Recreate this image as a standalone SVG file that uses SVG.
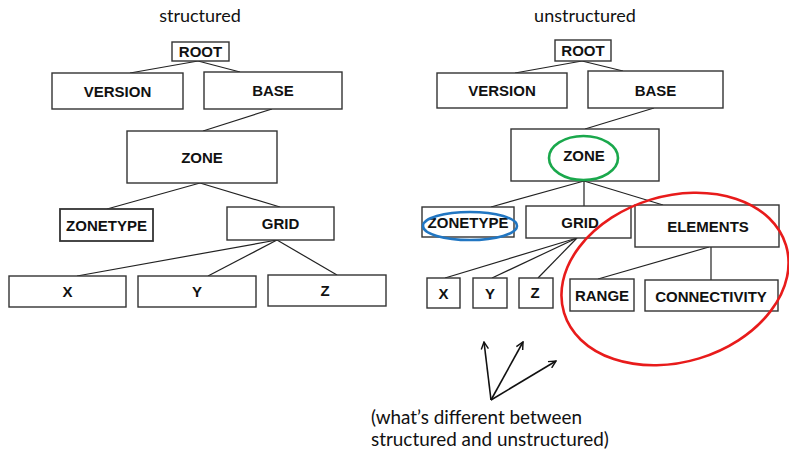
<svg xmlns="http://www.w3.org/2000/svg" width="789" height="451" viewBox="0 0 789 451">
<defs>
<style>
.box{fill:#fff;stroke:#333;stroke-width:1.4}
.lbl{font-family:"Liberation Sans",Arial,sans-serif;font-weight:bold;font-size:15px;text-anchor:middle;fill:#111}
.ttl{font-family:Lato,"Open Sans",sans-serif;font-size:18px;fill:#111}
.note{font-family:Lato,"Open Sans",sans-serif;font-size:18.9px;fill:#111}
.con line{stroke:#222;stroke-width:1.2}
.arr line{stroke:#111;stroke-width:1.6;fill:none}
</style>
<marker id="ah" viewBox="0 0 10 10" refX="9" refY="5" markerWidth="9" markerHeight="9" markerUnits="userSpaceOnUse" orient="auto">
<path d="M1,1 L9,5 L1,9" fill="none" stroke="#111" stroke-width="1.6"/>
</marker>
</defs>
<rect width="789" height="451" fill="#fff"/>

<text class="ttl" x="200" y="22" text-anchor="middle">structured</text>
<text class="ttl" x="585" y="22" text-anchor="middle">unstructured</text>

<g class="con" id="connectors">
<line x1="198" y1="61" x2="130" y2="73"/>
<line x1="198" y1="61" x2="240" y2="72"/>
<line x1="272" y1="109" x2="203" y2="131"/>
<line x1="200" y1="183" x2="107" y2="209"/>
<line x1="200" y1="183" x2="280" y2="207"/>
<line x1="277" y1="240" x2="77" y2="276"/>
<line x1="277" y1="240" x2="208" y2="276"/>
<line x1="277" y1="240" x2="337" y2="275"/>

<line x1="582" y1="61" x2="515" y2="73"/>
<line x1="582" y1="61" x2="623" y2="71"/>
<line x1="654" y1="108" x2="585" y2="129"/>
<line x1="584" y1="181" x2="491" y2="207"/>
<line x1="584" y1="181" x2="584" y2="206"/>
<line x1="584" y1="181" x2="663" y2="205"/>
<line x1="577" y1="238" x2="445" y2="278"/>
<line x1="577" y1="238" x2="492" y2="278"/>
<line x1="577" y1="238" x2="538" y2="278"/>
<line x1="709" y1="247" x2="598" y2="279"/>
<line x1="711" y1="247" x2="711" y2="280"/>
</g>

<g id="s-root"><rect class="box" x="172" y="42" width="57" height="19"/><text class="lbl" x="200.5" y="57">ROOT</text></g>
<g id="s-version"><rect class="box" x="52" y="73" width="131" height="36"/><text class="lbl" x="117.5" y="96.5">VERSION</text></g>
<g id="s-base"><rect class="box" x="204" y="72" width="138" height="37"/><text class="lbl" x="273" y="96">BASE</text></g>
<g id="s-zone"><rect class="box" x="127" y="131" width="150" height="52"/><text class="lbl" x="202" y="163">ZONE</text></g>
<g id="s-zonetype"><rect class="box" x="60" y="209" width="93" height="32" style="stroke-width:1.8"/><text class="lbl" x="106.5" y="230.5">ZONETYPE</text></g>
<g id="s-grid"><rect class="box" x="227" y="207" width="107" height="33"/><text class="lbl" x="280.5" y="229">GRID</text></g>
<g id="s-x"><rect class="box" x="9" y="276" width="117" height="31"/><text class="lbl" x="67.5" y="297">X</text></g>
<g id="s-y"><rect class="box" x="138" y="276" width="118" height="31"/><text class="lbl" x="197" y="297">Y</text></g>
<g id="s-z"><rect class="box" x="268" y="275" width="118" height="31"/><text class="lbl" x="325" y="296">Z</text></g>

<g id="u-root"><rect class="box" x="555" y="40" width="56" height="21"/><text class="lbl" x="583" y="56">ROOT</text></g>
<g id="u-version"><rect class="box" x="437" y="73" width="130" height="35"/><text class="lbl" x="502" y="96">VERSION</text></g>
<g id="u-base"><rect class="box" x="588" y="71" width="135" height="37"/><text class="lbl" x="655.5" y="96">BASE</text></g>
<g id="u-zone"><rect class="box" x="511" y="129" width="148" height="52"/><text class="lbl" x="584" y="161">ZONE</text></g>
<g id="u-zonetype"><rect class="box" x="422" y="207" width="92" height="30"/><text class="lbl" x="468" y="227.5">ZONETYPE</text></g>
<g id="u-grid"><rect class="box" x="526" y="206" width="105" height="32"/><text class="lbl" x="580" y="228">GRID</text></g>
<g id="u-elements"><rect class="box" x="635" y="205" width="144" height="42"/><text class="lbl" x="708" y="232">ELEMENTS</text></g>
<g id="u-x"><rect class="box" x="427" y="278" width="33" height="30"/><text class="lbl" x="443.5" y="298.5">X</text></g>
<g id="u-y"><rect class="box" x="473" y="278" width="34" height="30"/><text class="lbl" x="490" y="298.5">Y</text></g>
<g id="u-z"><rect class="box" x="519" y="278" width="34" height="30"/><text class="lbl" x="535" y="298">Z</text></g>
<g id="u-range"><rect class="box" x="570" y="279" width="64" height="32"/><text class="lbl" x="602" y="300.5">RANGE</text></g>
<g id="u-connectivity"><rect class="box" x="645" y="280" width="133" height="31"/><text class="lbl" x="711" y="301.5">CONNECTIVITY</text></g>

<g id="highlights" fill="none" stroke-width="2.6">
<ellipse cx="583.5" cy="158" rx="34.5" ry="22" stroke="#1aa84c"/>
<ellipse cx="470" cy="226" rx="47" ry="14" stroke="#2176c2"/>
<ellipse cx="675" cy="279" rx="116" ry="83" transform="rotate(-17 675 279)" stroke="#e81b1b"/>
</g>

<g class="arr" id="arrows">
<line x1="491" y1="400" x2="484" y2="342" marker-end="url(#ah)"/>
<line x1="491" y1="400" x2="523" y2="342" marker-end="url(#ah)"/>
<line x1="491" y1="400" x2="556" y2="361" marker-end="url(#ah)"/>
</g>

<text class="note" x="371" y="424">(what’s different between</text>
<text class="note" x="371" y="446">structured and unstructured)</text>
</svg>
